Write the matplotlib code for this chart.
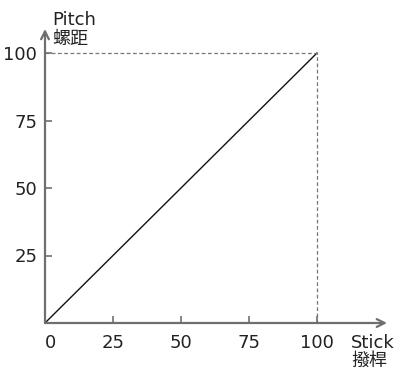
import matplotlib
matplotlib.use('Agg')
import matplotlib.pyplot as plt

# Datos de la curva: paso (pitch) en función del stick.
stick = [0, 100]
pitch = [0, 100]
ticks = [0, 25, 50, 75, 100]
y_ticks = [25, 50, 75, 100]

plt.rcParams['font.family'] = ['DejaVu Sans', 'Noto Sans CJK TC']

W, H = 396, 369
fig = plt.figure(figsize=(W / 100, H / 100), dpi=100)
# origen en (45, 323) px, x=100 en 317 px, y=100 en 53 px
x0, y0 = 45, 323
sx = (317 - 45) / 100
sy = (323 - 53) / 100
xmax = (387 - x0) / sx
ymax = (y0 - 29) / sy
ax = fig.add_axes([x0 / W, (H - y0) / H, (387 - x0) / W, (y0 - 29) / H])
ax.set_xlim(0, xmax)
ax.set_ylim(0, ymax)

axis_col = '#6f6f6f'
txt_col = '#222222'
for s in ax.spines.values():
    s.set_visible(False)

# Ejes con flecha.
ax.annotate('', xy=(1, 0), xytext=(0, 0), xycoords='axes fraction',
            arrowprops=dict(arrowstyle='->', color=axis_col, lw=1.6,
                            shrinkA=0, shrinkB=0, mutation_scale=14))
ax.annotate('', xy=(0, 1), xytext=(0, 0), xycoords='axes fraction',
            arrowprops=dict(arrowstyle='->', color=axis_col, lw=1.6,
                            shrinkA=0, shrinkB=0, mutation_scale=14))

ax.plot(stick, pitch, color='#111111', lw=1.0)
ax.plot([0, stick[-1]], [pitch[-1], pitch[-1]], color='#777777', lw=0.9, ls=(0, (3, 2)))
ax.plot([stick[-1], stick[-1]], [0, pitch[-1]], color='#777777', lw=0.9, ls=(0, (3, 2)))

ax.set_xticks(ticks)
ax.set_yticks(y_ticks)
ax.set_xticklabels([str(t) for t in ticks])
ax.set_yticklabels([str(t) for t in y_ticks])
ax.tick_params(axis='both', direction='in', length=5, width=1.2, color=axis_col,
               labelsize=13, labelcolor=txt_col)
ax.tick_params(axis='x', pad=8)
ax.tick_params(axis='y', pad=5.5)
# el "0" arranca en el origen
ax.get_xticklabels()[0].set_horizontalalignment('left')

# Títulos de los ejes (latín y chino en dos líneas).
fs = 13
fig.text(52 / W, 1 - 25 / H, 'Pitch', ha='left', va='baseline', fontsize=fs, color=txt_col)
fig.text(52 / W, 1 - 44 / H, '螺距', ha='left', va='baseline', fontsize=fs, color=txt_col)
fig.text(351 / W, 1 - 348 / H, 'Stick', ha='left', va='baseline', fontsize=fs, color=txt_col)
fig.text(351 / W, 1 - 366 / H, '撥桿', ha='left', va='baseline', fontsize=fs, color=txt_col)

fig.savefig('out.png', dpi=100)
